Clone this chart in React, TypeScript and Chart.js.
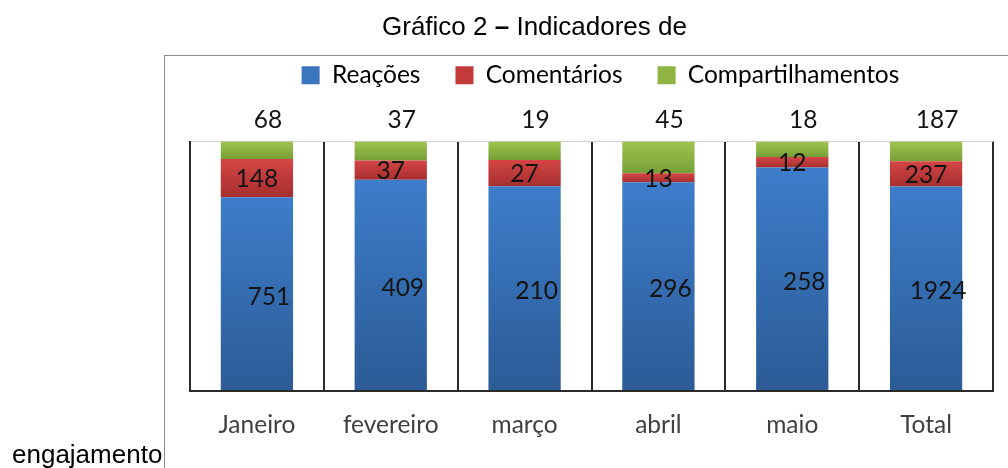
import React, { useEffect, useRef } from "react";
import { Chart, registerables } from "chart.js";

Chart.register(...registerables);

const categories = ["Janeiro", "fevereiro", "março", "abril", "maio", "Total"];
const seriesNames = ["Reações", "Comentários", "Compartilhamentos"];
const reacoes = [751, 409, 210, 296, 258, 1924];
const comentarios = [148, 37, 27, 13, 12, 237];
const compartilhamentos = [68, 37, 19, 45, 18, 187];

const rawSeries = [reacoes, comentarios, compartilhamentos];
const totals = categories.map((_, i) => rawSeries.reduce((s, arr) => s + arr[i], 0));
const pctSeries = rawSeries.map((arr) => arr.map((v, i) => (v / totals[i]) * 100));

const gradStops = [
  ["#3d7dca", "#2c5b96"],
  ["#d54545", "#a52f2e"],
  ["#9fc450", "#76a036"],
];
const solid = ["#3a76be", "#c23b3a", "#8fb443"];

function segFill(d: number) {
  return (ctx: any) => {
    const chart = ctx.chart;
    if (!chart.chartArea || ctx.type !== "data") return solid[d];
    const y = chart.scales.y;
    const j = ctx.dataIndex;
    let lo = 0;
    for (let k = 0; k < d; k++) lo += pctSeries[k][j];
    const hi = lo + pctSeries[d][j];
    const y0 = y.getPixelForValue(hi);
    const y1 = y.getPixelForValue(lo);
    const g = chart.ctx.createLinearGradient(0, y0, 0, y1);
    g.addColorStop(0, gradStops[d][0]);
    g.addColorStop(1, gradStops[d][1]);
    return g;
  };
}

const labelFont = "Lato";
const fontSize = 24.5;

const valueLabels = {
  id: "valueLabels",
  afterDatasetsDraw(chart: any) {
    const c = chart.ctx;
    c.save();
    c.font = `${fontSize}px ${labelFont}`;
    c.fillStyle = "#141414";
    c.textAlign = "center";
    c.textBaseline = "middle";
    chart.data.datasets.forEach((ds: any, d: number) => {
      const meta = chart.getDatasetMeta(d);
      meta.data.forEach((el: any, j: number) => {
        const text = String(rawSeries[d][j]);
        if (d === 2) {
          c.fillText(text, el.x + 11, el.y - 21);
        } else if (d === 0) {
          c.fillText(text, el.x + 12, (el.y + el.base) / 2 + 3);
        } else {
          c.fillText(text, el.x, (el.y + el.base) / 2 + 1);
        }
      });
    });
    c.restore();
  },
};

const legendSpacer = {
  id: "legendSpacer",
  beforeInit(chart: any) {
    const orig = chart.legend.fit;
    chart.legend.fit = function () {
      orig.bind(chart.legend)();
      this.height += 44;
    };
  },
  afterLayout(chart: any) {
    if (chart.legend) {
      chart.legend.left += 9;
      chart.legend.right += 9;
    }
  },
};

export default function App() {
  const ref = useRef<HTMLCanvasElement>(null);
  useEffect(() => {
    document.body.style.margin = "0";
    const chart = new Chart(ref.current!, {
      type: "bar",
      data: {
        labels: categories,
        datasets: pctSeries.map((data, d) => ({
          label: seriesNames[d],
          data,
          backgroundColor: segFill(d),
          borderWidth: 0,
          barPercentage: 0.54,
          categoryPercentage: 1,
        })),
      },
      options: {
        animation: false,
        responsive: false,
        maintainAspectRatio: false,
        layout: { padding: { top: 28, left: 190, right: 15, bottom: 8 } },
        plugins: {
          legend: {
            position: "top",
            labels: {
              boxWidth: 18,
              boxHeight: 18,
              padding: 35,
              color: "#404040",
              font: { family: labelFont, size: fontSize },
              generateLabels: () =>
                seriesNames.map((n, d) => ({
                  text: n,
                  fillStyle: solid[d],
                  strokeStyle: "rgba(0,0,0,0)",
                  lineWidth: 0,
                  datasetIndex: d,
                  hidden: false,
                })),
            },
          },
          tooltip: { enabled: false },
        },
        scales: {
          x: {
            stacked: true,
            grid: {
              offset: true,
              drawTicks: false,
              lineWidth: 2,
              color: (ctx: any) => (ctx.index === categories.length ? "#d0d0d0" : "#2a2a2a"),
            },
            border: { display: true, color: "#2a2a2a", width: 2 },
            ticks: {
              padding: 20,
              color: "#404040",
              font: { family: labelFont, size: fontSize },
            },
          },
          y: {
            stacked: true,
            min: 0,
            max: 100,
            ticks: { display: false, stepSize: 20 },
            grid: {
              drawTicks: false,
              lineWidth: 1,
              color: (ctx: any) => (ctx.tick && ctx.tick.value === 100 ? "#d0d0d0" : "rgba(0,0,0,0)"),
            },
            border: { display: true, color: "#2a2a2a", width: 2 },
          },
        },
      },
      plugins: [valueLabels, legendSpacer],
    });
    return () => chart.destroy();
  }, []);

  return (
    <div style={{ position: "fixed", left: 0, top: 0, width: 1008, height: 468, background: "#fff", overflow: "hidden" }}>
      <div
        style={{
          position: "absolute",
          left: 164,
          top: 55,
          width: 1000,
          height: 600,
          border: "1px solid #8c8c8c",
          boxSizing: "border-box",
        }}
      />
      <canvas ref={ref} width={1008} height={468} style={{ position: "absolute", left: 0, top: 0 }} />
      <div
        style={{
          position: "absolute",
          left: 382,
          top: 13,
          font: "26px 'Liberation Sans', Arial, sans-serif",
          lineHeight: "26px",
          whiteSpace: "nowrap",
          color: "#000",
        }}
      >
        Gráfico 2 <b>–</b> Indicadores de
      </div>
      <div
        style={{
          position: "absolute",
          left: 12,
          top: 441,
          font: "26px 'Liberation Sans', Arial, sans-serif",
          lineHeight: "26px",
          whiteSpace: "nowrap",
          color: "#000",
        }}
      >
        engajamento
      </div>
    </div>
  );
}
